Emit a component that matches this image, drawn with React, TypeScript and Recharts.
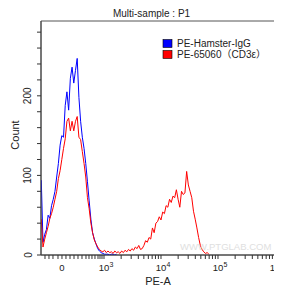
import React from "react";
import { LineChart, Line, XAxis, YAxis, ReferenceArea } from "recharts";

// Display positions (decades on a logicle-like axis) for each histogram bin
const channels = [
  1.90, 1.93, 1.96, 1.99, 2.02, 2.05, 2.08, 2.11, 2.14, 2.17,
  2.20, 2.23, 2.26, 2.29, 2.32, 2.35, 2.38, 2.41, 2.44, 2.47,
  2.50, 2.53, 2.56, 2.59, 2.62, 2.65, 2.68, 2.71, 2.74, 2.77,
  2.80, 2.83, 2.86, 2.89, 2.92, 2.95, 2.98, 3.01, 3.04, 3.07,
  3.10, 3.13, 3.16, 3.19, 3.22, 3.25, 3.28, 3.31, 3.34, 3.37,
  3.40, 3.43, 3.46, 3.49, 3.52, 3.55, 3.58, 3.61, 3.64, 3.67,
  3.70, 3.73, 3.76, 3.79, 3.82, 3.85, 3.88, 3.91, 3.94, 3.97,
  4.00, 4.03, 4.06, 4.09, 4.12, 4.15, 4.18, 4.21, 4.24, 4.27,
  4.30, 4.33, 4.36, 4.39, 4.42, 4.45, 4.48, 4.51, 4.54, 4.57,
  4.60, 4.63, 4.66, 4.69, 4.72, 4.75, 4.78, 4.81, 4.84,
];

// PE-Hamster-IgG counts
const hamsterIgG: (number | null)[] = [
  94, 16, 26, 32, 50, 46, 62, 70, 80, 98,
  115, 138, 150, 148, 188, 205, 182, 222, 236, 216,
  232, 247, 198, 168, 148, 134, 115, 92, 68, 45,
  28, 20, 14, 8, 5, 3, 2, 1, 1, 1,
  0, 1, 1, 0, 1,
];

// PE-65060 (CD3e) counts
const cd3e: number[] = [
  45, 10, 20, 28, 36, 46, 52, 60, 70, 80,
  96, 106, 120, 134, 146, 168, 172, 156, 168, 156,
  168, 174, 148, 145, 130, 115, 98, 72, 58, 40,
  28, 19, 14, 10, 7, 5, 4, 6, 3, 5,
  3, 4, 2, 5, 3, 4, 2, 5, 3, 6,
  4, 7, 5, 8, 6, 10, 8, 12, 7, 8,
  12, 18, 16, 22, 20, 34, 28, 40, 42, 48,
  44, 54, 52, 62, 60, 70, 66, 74, 72, 82,
  70, 60, 80, 76, 78, 105, 88, 80, 72, 55,
  45, 34, 22, 12, 7, 4, 2, 3, 1,
];

const yTicks = [0, 20, 40, 60, 80, 100, 120, 140, 160, 180, 200, 220, 240, 260, 280];
const yLabelTicks = [0, 100, 200];

const xMajorTicks = [2.263, 3, 4, 5, 6];
const xMajorBase = ["0", "10", "10", "10", "10"];
const xMajorExp = ["", "3", "4", "5", "6"];
const xMinorTicks = [
  1.965, 2.035, 2.105, 2.193, 2.333, 2.404, 2.474, 2.544, 2.614, 2.684,
  2.737, 2.789, 2.842, 2.895, 2.93, 2.965,
  3.301, 3.477, 3.602, 3.699, 3.778, 3.845, 3.903, 3.954,
  4.301, 4.477, 4.602, 4.699, 4.778, 4.845, 4.903, 4.954,
  5.301, 5.477, 5.602, 5.699, 5.778, 5.845, 5.903, 5.954,
];

const seriesNames = ["PE-Hamster-IgG", "PE-65060\uFF08CD3\u03B5\uFF09"];
const seriesColors = ["#0000ff", "#ff0000"];

const FONT = "'Liberation Sans', Arial, 'Noto Sans CJK SC', sans-serif";

const rows = channels.map((u, i) => ({
  u,
  blue: i < hamsterIgG.length ? hamsterIgG[i] : null,
  red: cd3e[i],
}));

const allXTicks = [...xMajorTicks, ...xMinorTicks].sort((a, b) => a - b);

const XTick = (props: any) => {
  const { x, payload } = props;
  const idx = xMajorTicks.findIndex((v) => Math.abs(v - payload.value) < 1e-6);
  if (idx < 0) return <g />;
  return (
    <g>
      <text x={x} y={263} textAnchor="middle" fontSize={9.5} fill="#222" fontFamily={FONT}>
        {xMajorBase[idx]}
      </text>
      {xMajorExp[idx] ? (
        <text x={x + 5.5} y={258.5} fontSize={7} fill="#222" fontFamily={FONT}>
          {xMajorExp[idx]}
        </text>
      ) : null}
    </g>
  );
};

const YTick = (props: any) => {
  const { y, payload } = props;
  if (!yLabelTicks.includes(payload.value)) return <g />;
  return (
    <text
      x={20}
      y={y}
      transform={`rotate(-90, 20, ${y})`}
      textAnchor="middle"
      dominantBaseline="central"
      fontSize={10}
      fill="#222"
      fontFamily={FONT}
    >
      {payload.value}
    </text>
  );
};

export default function App() {
  return (
    <div style={{ position: "relative", width: 274, height: 285 }}>
      <LineChart width={274} height={285} data={rows} margin={{ top: 13, right: 7, left: 0, bottom: 0 }}>
        <XAxis
          dataKey="u"
          type="number"
          domain={[1.895, 6]}
          allowDataOverflow
          ticks={allXTicks}
          interval={0}
          tick={(p: any) => <XTick {...p} />}
          tickSize={4}
          tickLine={{ stroke: "#333" }}
          axisLine={{ stroke: "#444" }}
          height={38}
        />
        <YAxis
          type="number"
          domain={[0, 294]}
          allowDataOverflow
          ticks={yTicks}
          interval={0}
          tick={(p: any) => <YTick {...p} />}
          tickSize={4}
          tickLine={{ stroke: "#333" }}
          axisLine={{ stroke: "#444" }}
          width={33}
        />
        <ReferenceArea x1={1.895} x2={6} y1={0} y2={294} fill="none" stroke="#555" strokeWidth={1} />
        <Line
          dataKey="blue"
          stroke={seriesColors[0]}
          strokeWidth={1}
          dot={false}
          type="linear"
          isAnimationActive={false}
        />
        <Line
          dataKey="red"
          stroke={seriesColors[1]}
          strokeWidth={1}
          dot={false}
          type="linear"
          isAnimationActive={false}
        />
      </LineChart>
      <svg
        width={274}
        height={285}
        style={{ position: "absolute", left: 0, top: 0, pointerEvents: "none" }}
      >
        <text x={143.5} y={9} textAnchor="middle" fontSize={10} fill="#222" fontFamily={FONT}>
          Multi-sample : P1
        </text>
        {seriesNames.map((name, i) => (
          <g key={name}>
            <rect
              x={155}
              y={31.5 + i * 11}
              width={9}
              height={8}
              fill={seriesColors[i]}
              stroke="#000"
              strokeWidth={0.6}
            />
            <text x={169} y={38.7 + i * 10.8} fontSize={10} fill="#222" fontFamily={FONT}>
              {name}
            </text>
          </g>
        ))}
        <text
          x={7}
          y={127}
          transform="rotate(-90, 7, 127)"
          textAnchor="middle"
          dominantBaseline="central"
          fontSize={11}
          fill="#222"
          fontFamily={FONT}
        >
          Count
        </text>
        <text x={150} y={277} textAnchor="middle" fontSize={11} fill="#222" fontFamily={FONT}>
          PE-A
        </text>
        <text x={172} y={242} fontSize={9.5} fill="#e0e0e0" fontFamily={FONT}>
          WWW.PTGLAB.COM
        </text>
      </svg>
    </div>
  );
}
